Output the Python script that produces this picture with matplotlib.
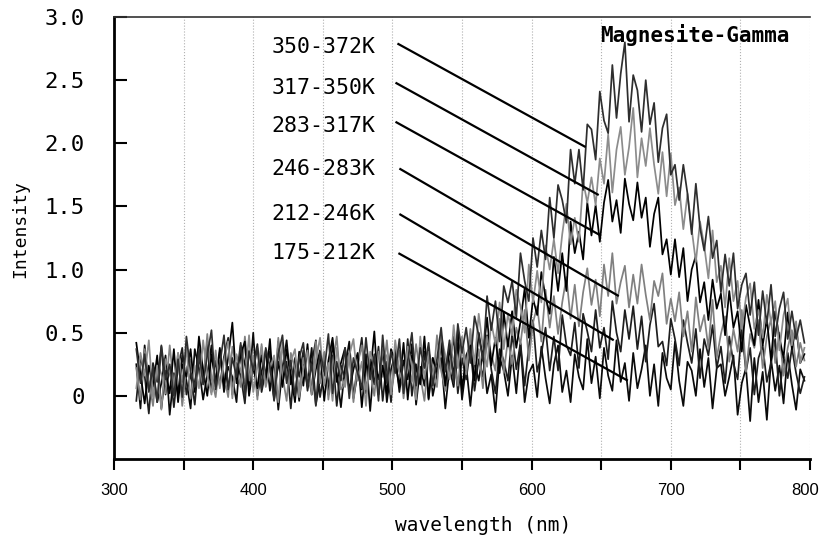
import matplotlib
matplotlib.use("Agg")
import matplotlib.pyplot as plt
import matplotlib.transforms as mtransforms
import numpy as np

# wavelength grid (nm), 3 nm steps
wavelength = np.arange(316, 797, 3)

s_350_372 = [
    0.37, 0.10, 0.33, 0.03, 0.23, -0.05, 0.40, 0.13, 0.25, 0.00,
    0.29, -0.01, 0.47, 0.19, 0.07, 0.37, 0.09, 0.32, 0.52, 0.05,
    0.25, 0.48, 0.05, 0.30, 0.15, 0.42, 0.00, 0.35, 0.20, 0.38,
    0.06, 0.38, 0.23, -0.04, 0.33, 0.48, 0.10, 0.28, 0.00, 0.30,
    0.42, 0.07, 0.25, -0.08, 0.35, 0.19, 0.49, 0.02, 0.27, 0.12,
    0.38, -0.02, 0.30, 0.18, 0.06, 0.46, 0.13, 0.33, -0.04, 0.48,
    0.10, 0.35, 0.18, 0.45, 0.02, 0.28, 0.50, 0.08, 0.38, 0.22,
    0.42, 0.08, 0.29, 0.54, 0.19, 0.44, 0.10, 0.57, 0.34, 0.54,
    0.26, 0.63, 0.48, 0.28, 0.79, 0.52, 0.75, 0.43, 0.87, 0.74,
    0.91, 0.62, 1.13, 0.91, 0.75, 1.25, 1.02, 1.31, 1.08, 1.57,
    1.25, 1.67, 1.55, 1.37, 1.95, 1.68, 1.95, 1.63, 2.15, 2.11,
    1.87, 2.41, 2.18, 2.08, 2.62, 2.20, 2.55, 2.80, 2.17, 2.54,
    2.42, 2.09, 2.50, 2.15, 2.32, 1.85, 2.12, 2.23, 1.75, 1.83,
    1.55, 1.83, 1.60, 1.28, 1.68, 1.33, 1.15, 1.42, 1.09, 1.23,
    0.82, 1.12, 0.87, 1.13, 0.69, 0.88, 0.97, 0.64, 0.90, 0.48,
    0.83, 0.57, 0.88, 0.47, 0.69, 0.82, 0.45, 0.67, 0.45, 0.60,
    0.42]

s_317_350 = [
    0.06, 0.34, 0.16, 0.44, -0.01, 0.24, -0.11, 0.29, 0.19, 0.04,
    0.34, 0.11, 0.38, -0.02, 0.24, 0.06, 0.44, 0.16, 0.01, 0.36,
    0.06, 0.28, 0.43, -0.02, 0.33, 0.20, 0.10, 0.48, 0.03, 0.23,
    0.39, 0.07, 0.22, 0.32, -0.05, 0.42, 0.12, 0.27, 0.37, -0.01,
    0.21, 0.36, 0.01, 0.28, 0.46, 0.08, 0.26, -0.04, 0.38, 0.16,
    0.07, 0.32, 0.45, 0.12, 0.27, -0.08, 0.35, 0.22, 0.05, 0.37,
    0.31, 0.01, 0.44, 0.19, 0.09, 0.39, 0.24, -0.03, 0.47, 0.14,
    0.35, 0.23, 0.07, 0.48, 0.32, 0.13, 0.56, 0.22, 0.47, 0.21,
    0.53, 0.25, 0.65, 0.39, 0.23, 0.58, 0.41, 0.74, 0.37, 0.65,
    0.48, 0.84, 0.71, 0.50, 1.04, 0.74, 0.99, 0.74, 1.19, 1.00,
    1.24, 0.97, 1.28, 1.52, 1.20, 1.41, 1.22, 1.70, 1.53, 1.73,
    1.51, 1.88, 1.68, 2.07, 1.61, 1.95, 2.13, 1.75, 1.97, 2.28,
    1.73, 2.04, 1.82, 2.12, 1.83, 1.60, 1.93, 1.58, 1.92, 1.51,
    1.65, 1.32, 1.60, 1.32, 1.06, 1.38, 1.19, 0.93, 1.31, 0.90,
    1.03, 0.70, 1.09, 0.75, 0.91, 0.53, 0.78, 0.89, 0.53, 0.68,
    0.46, 0.80, 0.58, 0.75, 0.36, 0.64, 0.77, 0.40, 0.59, 0.26,
    0.38]

s_283_317 = [
    0.42, 0.17, -0.06, 0.24, 0.07, 0.32, -0.10, 0.20, 0.02, 0.37,
    -0.05, 0.25, 0.15, 0.37, 0.03, 0.47, 0.20, 0.00, 0.33, 0.10,
    0.38, 0.08, 0.30, 0.58, 0.10, 0.33, 0.43, 0.00, 0.23, 0.06,
    0.32, 0.12, 0.45, -0.03, 0.27, 0.07, 0.37, 0.17, -0.05, 0.35,
    0.08, 0.41, 0.01, 0.21, 0.36, -0.04, 0.28, 0.46, 0.11, 0.26,
    0.38, 0.04, 0.21, 0.34, -0.09, 0.26, 0.16, 0.51, 0.01, 0.24,
    0.02, 0.37, 0.27, 0.07, 0.42, -0.03, 0.32, 0.22, 0.09, 0.47,
    -0.02, 0.30, 0.19, 0.44, 0.08, 0.38, 0.16, 0.52, 0.05, 0.32,
    0.40, 0.12, 0.50, 0.30, 0.62, 0.24, 0.46, 0.18, 0.66, 0.39,
    0.67, 0.38, 0.59, 0.85, 0.46, 0.77, 0.64, 0.98, 0.78, 0.65,
    1.10, 0.83, 1.13, 0.83, 1.38, 1.13, 1.30, 1.08, 1.53, 1.27,
    1.51, 1.22, 1.53, 1.71, 1.38, 1.55, 1.29, 1.72, 1.52, 1.39,
    1.69, 1.41, 1.57, 1.18, 1.44, 1.57, 1.12, 1.24, 0.96, 1.24,
    0.94, 1.17, 0.75, 1.00, 1.11, 0.74, 0.90, 0.60, 0.92, 0.69,
    0.81, 0.48, 0.83, 0.54, 0.67, 0.35, 0.72, 0.55, 0.40, 0.76,
    0.40, 0.61, 0.28, 0.67, 0.46, 0.30, 0.66, 0.37, 0.55, 0.26,
    0.33]

s_246_283 = [
    0.22, -0.03, 0.37, 0.12, -0.08, 0.27, 0.17, 0.02, 0.40, 0.07,
    0.34, -0.08, 0.22, 0.29, 0.04, 0.39, 0.09, 0.49, 0.14, -0.01,
    0.29, 0.17, -0.01, 0.39, 0.22, 0.07, 0.47, 0.12, 0.32, -0.03,
    0.41, 0.08, 0.26, 0.01, 0.46, 0.16, -0.04, 0.34, 0.21, 0.06,
    0.30, 0.15, 0.03, 0.43, 0.10, 0.35, -0.03, 0.25, 0.47, 0.05,
    0.10, 0.33, -0.05, 0.25, 0.40, 0.05, 0.20, 0.00, 0.35, 0.15,
    0.44, 0.04, 0.21, 0.36, -0.02, 0.26, 0.11, 0.41, 0.16, -0.04,
    0.32, 0.07, 0.48, 0.20, 0.04, 0.41, 0.28, 0.08, 0.39, 0.17,
    0.48, 0.16, 0.37, 0.06, 0.47, 0.33, 0.20, 0.61, 0.18, 0.45,
    0.25, 0.54, 0.41, 0.68, 0.28, 0.58, 0.71, 0.43, 0.84, 0.54,
    0.79, 0.49, 0.74, 0.94, 0.61, 0.88, 0.55, 0.82, 1.01, 0.72,
    0.92, 0.63, 1.04, 0.79, 1.13, 0.73, 0.90, 1.03, 0.70, 0.96,
    0.73, 1.04, 0.80, 0.60, 0.91, 0.79, 0.97, 0.57, 0.77, 0.59,
    0.82, 0.47, 0.67, 0.35, 0.78, 0.51, 0.64, 0.38, 0.76, 0.30,
    0.49, 0.63, 0.27, 0.53, 0.35, 0.68, 0.19, 0.49, 0.38, 0.60,
    0.22, 0.47, 0.61, 0.26, 0.50, 0.16, 0.38, 0.52, 0.23, 0.42,
    0.28]

s_212_246 = [
    -0.04, 0.31, 0.16, -0.14, 0.26, 0.11, 0.39, 0.01, 0.23, -0.09,
    0.23, 0.38, 0.01, 0.18, -0.07, 0.31, 0.13, 0.43, 0.03, 0.28,
    0.08, 0.31, 0.46, 0.01, 0.26, 0.16, -0.06, 0.36, 0.24, 0.41,
    0.03, 0.20, 0.35, -0.03, 0.43, 0.10, 0.27, -0.10, 0.30, 0.15,
    0.36, 0.04, 0.26, 0.44, -0.01, 0.19, 0.09, 0.32, -0.08, 0.24,
    0.14, 0.34, -0.01, 0.24, 0.46, 0.02, 0.29, 0.09, 0.39, -0.04,
    0.27, -0.05, 0.37, 0.20, 0.05, 0.45, 0.00, 0.25, 0.10, 0.35,
    -0.03, 0.30, 0.16, 0.41, 0.06, 0.25, 0.47, 0.02, 0.30, 0.13,
    0.38, 0.04, 0.29, 0.15, 0.48, 0.21, 0.02, 0.37, 0.28, 0.12,
    0.50, 0.21, 0.42, 0.08, 0.39, 0.60, 0.19, 0.33, 0.54, 0.20,
    0.47, 0.20, 0.64, 0.40, 0.32, 0.58, 0.22, 0.65, 0.51, 0.35,
    0.68, 0.38, 0.54, 0.29, 0.75, 0.50, 0.35, 0.68, 0.45, 0.71,
    0.37, 0.63, 0.27, 0.56, 0.73, 0.39, 0.43, 0.24, 0.61, 0.45,
    0.24, 0.60, 0.42, 0.26, 0.53, 0.14, 0.45, 0.32, 0.56, 0.22,
    0.39, 0.10, 0.47, 0.26, 0.13, 0.53, 0.19, 0.38, 0.01, 0.30,
    0.40, 0.11, 0.26, 0.45, 0.00, 0.31, 0.14, 0.38, 0.18, 0.02,
    0.15]

s_175_212 = [
    0.25, -0.10, 0.40, 0.05, 0.20, -0.05, 0.10, 0.32, -0.15, 0.18,
    0.02, 0.32, 0.12, -0.10, 0.37, 0.22, -0.03, 0.17, 0.40, 0.07,
    0.35, 0.03, 0.23, 0.15, -0.05, 0.40, 0.25, 0.07, 0.50, 0.00,
    0.19, 0.36, 0.04, 0.29, -0.11, 0.22, 0.44, 0.09, 0.26, -0.04,
    0.25, 0.08, 0.38, -0.07, 0.13, 0.31, 0.01, 0.41, 0.18, -0.09,
    0.23, 0.43, -0.02, 0.18, 0.05, 0.33, -0.12, 0.28, 0.13, 0.35,
    -0.05, 0.21, 0.33, 0.03, 0.28, 0.13, 0.41, -0.07, 0.23, 0.08,
    0.37, 0.00, 0.17, 0.30, -0.10, 0.22, 0.07, 0.42, -0.03, 0.24,
    -0.08, 0.27, 0.12, 0.34, 0.02, 0.17, -0.13, 0.30, 0.20, 0.00,
    0.32, 0.02, 0.41, -0.05, 0.18, 0.25, -0.01, 0.39, 0.14, -0.06,
    0.25, 0.40, 0.03, 0.20, -0.05, 0.33, 0.15, 0.05, 0.45, 0.10,
    0.31, -0.02, 0.38, 0.16, 0.04, 0.44, 0.11, 0.26, -0.04, 0.34,
    0.06, 0.21, 0.40, 0.00, 0.25, -0.08, 0.34, 0.14, 0.05, 0.43,
    0.12, -0.08, 0.27, 0.20, 0.00, 0.37, 0.07, 0.30, -0.10, 0.22,
    0.25, 0.00, 0.15, 0.32, -0.15, 0.10, 0.22, -0.20, 0.30, -0.05,
    0.19, -0.19, 0.29, 0.04, 0.24, -0.06, 0.34, 0.09, -0.11, 0.21,
    0.12]

labels = ["350-372K", "317-350K", "283-317K", "246-283K", "212-246K", "175-212K"]
series = [s_350_372, s_317_350, s_283_317, s_246_283, s_212_246, s_175_212]
colors = ["#2e2e2e", "#8c8c8c", "#000000", "#808080", "#1e1e1e", "#0a0a0a"]

# label text anchor (right end) and leader line start / tip
label_y = [2.76, 2.44, 2.14, 1.80, 1.44, 1.13]
line_start = [(503.6, 2.79), (502.2, 2.48), (502.2, 2.17),
              (505.0, 1.80), (505.0, 1.44), (504.3, 1.13)]
line_tip = [(638.8, 1.97), (648.2, 1.59), (649.6, 1.27),
            (662.6, 0.79), (659.0, 0.44), (669.1, 0.12)]

mono = "DejaVu Sans Mono"

fig = plt.figure(figsize=(8.21, 5.41), dpi=100)
ax = fig.add_axes([0.1389, 0.1516, 0.8477, 0.8170])

# draw lowest first so the bright peaks sit on top
for s, c in list(zip(series, colors))[::-1]:
    ax.plot(wavelength, s, color=c, lw=1.25)

for lab, ly, p0, p1 in zip(labels, label_y, line_start, line_tip):
    ax.plot([p0[0], p1[0]], [p0[1], p1[1]], color="black", lw=1.6,
            solid_capstyle="butt")
    ax.text(488, ly, lab, ha="right", va="center", fontsize=15.5,
            family=mono)

ax.text(785, 2.86, "Magnesite-Gamma", ha="right", va="center",
        fontsize=15, family=mono, fontweight="bold")

ax.set_xlim(300, 800)
ax.set_ylim(-0.5, 3.0)

ax.set_xticks(np.arange(300, 801, 50))
ax.set_xticklabels(["300", "", "400", "", "500", "", "600", "", "700", "", "800"],
                   family="Liberation Sans", fontsize=12)
ax.set_yticks([0, 0.5, 1.0, 1.5, 2.0, 2.5, 3.0])
ax.set_yticklabels(["0", "0.5", "1.0", "1.5", "2.0", "2.5", "3.0"],
                   family=mono, fontsize=16)

ax.tick_params(axis="x", direction="out", length=8, width=1.5, pad=9)
ax.tick_params(axis="y", direction="in", length=9, width=1.5, pad=21)

# nudge the last x label so it stays inside the figure
last = ax.get_xticklabels()[-1]
last.set_transform(last.get_transform() +
                   mtransforms.ScaledTranslation(-5 / 100, 0, fig.dpi_scale_trans))

ax.grid(axis="x", color="#b0b0b0", linestyle=":", lw=0.8)
ax.set_axisbelow(True)

ax.spines["left"].set_linewidth(2)
ax.spines["bottom"].set_linewidth(2)
ax.spines["top"].set_linewidth(1.2)
ax.spines["top"].set_color("#333333")
ax.spines["right"].set_visible(False)

ax.set_xlabel("wavelength (nm)", family=mono, fontsize=14)
ax.xaxis.set_label_coords(0.53, -0.13)
ax.set_ylabel("Intensity", family=mono, fontsize=13)
ax.yaxis.set_label_coords(-0.122, 0.52)

fig.savefig("out.png", dpi=100)
